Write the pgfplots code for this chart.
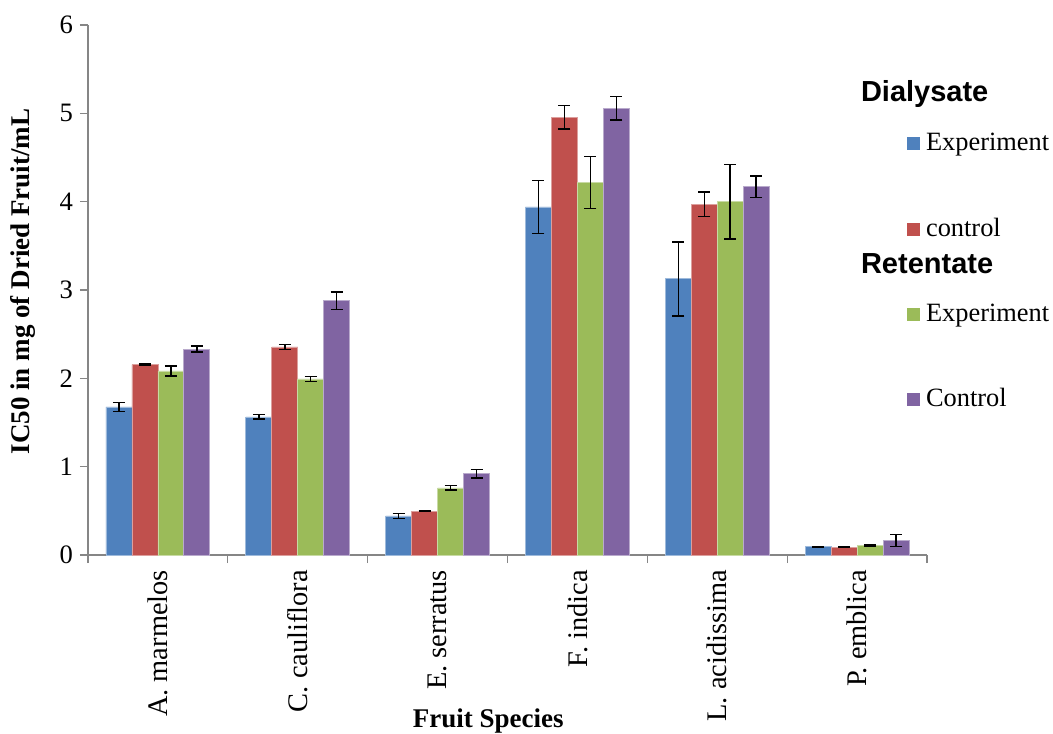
\documentclass[border=0pt]{standalone}
\usepackage{fontspec}
\setmainfont{Liberation Serif}
\newfontfamily\hdfont{Liberation Sans}
\usepackage{pgfplots}
\pgfplotsset{compat=1.18}
\definecolor{cblue}{HTML}{4F81BD}
\definecolor{cred}{HTML}{C0504D}
\definecolor{cgreen}{HTML}{9BBB59}
\definecolor{cpurple}{HTML}{8064A2}
\definecolor{axgray}{HTML}{868686}
\pgfplotsset{
  sqleg/.style={legend image code/.code={\path[##1,draw=none] (0pt,0.3pt) rectangle (6.5pt,6.6pt);}},
  eb/.style={/pgfplots/error bars/y dir=both, /pgfplots/error bars/y explicit,
    /pgfplots/error bars/error bar style={black,line width=0.75pt},
    /pgfplots/error bars/error mark options={rotate=90,black,mark size=3pt,line width=0.75pt}},
}
\begin{document}
\begin{tikzpicture}
\begin{axis}[
  scale only axis, width=419.5pt, height=265pt,
  xmin=-0.5, xmax=5.5, ymin=0, ymax=6,
  ybar=0pt, bar width=0.1857,
  axis x line*=bottom, axis y line*=left,
  axis line style={axgray, line width=0.6pt},
  tick align=outside,
  xtick={0,...,5},
  xticklabels={A. marmelos, C. cauliflora, E. serratus, F. indica, L. acidissima, P. emblica},
  major x tick style={draw=none},
  minor xtick={-0.5,0.5,...,5.5},
  minor x tick style={axgray, line width=0.6pt},
  minor tick length=4pt,
  major tick length=4pt,
  ytick={0,...,6},
  y tick style={axgray, line width=0.6pt},
  /pgf/number format/assume math mode=true,
  yticklabel style={font=\fontsize{13.3}{15}\selectfont},
  xticklabel style={rotate=90, anchor=east, font=\fontsize{14.2}{16}\selectfont},
  xlabel={Fruit Species},
  xlabel style={at={(axis description cs:0.477,0)}, anchor=base, yshift=-86pt, font=\fontsize{13.5}{16}\selectfont\bfseries},
  ylabel={IC50 in mg of Dried Fruit/mL},
  ylabel style={at={(axis description cs:-0.077,0.516)}, anchor=center, font=\fontsize{13.5}{16}\selectfont\bfseries},
  legend style={draw=none, fill=none, inner sep=0pt, outer sep=0pt,
    at={(0.9762,0.8968)}, anchor=north west, row sep=0pt, column sep=3pt,
    cells={anchor=base west},
    nodes={inner sep=0pt}, font=\fontsize{13.2}{15}\selectfont},
  clip=false,
]
\coordinate (bbsw) at (rel axis cs:0,0);
\coordinate (bbne) at (rel axis cs:1,1);
\addlegendimage{empty legend}
\addlegendentry[text height=11pt, text depth=13.5pt]{\hspace*{-32.5pt}{\hdfont\bfseries\fontsize{14.5}{16}\selectfont Dialysate}}
\addplot[fill=cblue, draw=cblue!55!white, line width=0.4pt, sqleg, eb] coordinates {
 (0,1.676) +- (0,0.053)
 (1,1.563) +- (0,0.026)
 (2,0.442) +- (0,0.026)
 (3,3.94) +- (0,0.30)
 (4,3.126) +- (0,0.42)
 (5,0.094) +- (0,0.005)
};
\addlegendentry[text height=11pt, text depth=32pt]{Experiment}
\addplot[fill=cred, draw=cred!55!white, line width=0.4pt, sqleg, eb] coordinates {
 (0,2.155) +- (0,0.005)
 (1,2.355) +- (0,0.028)
 (2,0.495) +- (0,0.003)
 (3,4.957) +- (0,0.134)
 (4,3.97) +- (0,0.14)
 (5,0.09) +- (0,0.005)
};
\addlegendentry[text height=11pt, text depth=7.3pt]{control}
\addlegendimage{empty legend}
\addlegendentry[text height=11pt, text depth=13.2pt]{\hspace*{-32.5pt}{\hdfont\bfseries\fontsize{14.5}{16}\selectfont Retentate}}
\addplot[fill=cgreen, draw=cgreen!55!white, line width=0.4pt, sqleg, eb] coordinates {
 (0,2.084) +- (0,0.055)
 (1,1.993) +- (0,0.026)
 (2,0.759) +- (0,0.025)
 (3,4.216) +- (0,0.296)
 (4,3.998) +- (0,0.42)
 (5,0.11) +- (0,0.008)
};
\addlegendentry[text height=11pt, text depth=31.5pt]{Experiment}
\addplot[fill=cpurple, draw=cpurple!55!white, line width=0.4pt, sqleg, eb] coordinates {
 (0,2.33) +- (0,0.034)
 (1,2.88) +- (0,0.10)
 (2,0.921) +- (0,0.047)
 (3,5.058) +- (0,0.134)
 (4,4.17) +- (0,0.12)
 (5,0.162) +- (0,0.068)
};
\addlegendentry[text height=11pt, text depth=3pt]{Control}
\end{axis}
\pgfresetboundingbox
\path ([shift={(-44pt,-89pt)}]bbsw) rectangle ([shift={(63pt,12.5pt)}]bbne);
\end{tikzpicture}
\end{document}
